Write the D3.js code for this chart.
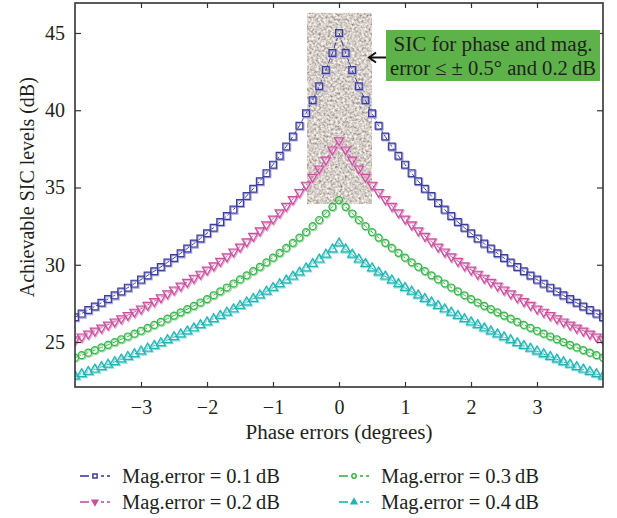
<!DOCTYPE html>
<html>
<head>
<meta charset="utf-8">
<script src="https://cdn.jsdelivr.net/npm/d3@7"></script>
<style>
  html, body { margin: 0; padding: 0; background: #fff; }
  svg { display: block; }
  text { font-family: "Liberation Serif", "DejaVu Serif", serif; fill: #231f20; }
</style>
</head>
<body>
<svg id="chart" width="617" height="518"></svg>
<script>
// ---------------- data ----------------
const phases = [-4,-3.9,-3.8,-3.7,-3.6,-3.5,-3.4,-3.3,-3.2,-3.1,-3,-2.9,-2.8,-2.7,-2.6,-2.5,-2.4,-2.3,-2.2,-2.1,-2,-1.9,-1.8,-1.7,-1.6,-1.5,-1.4,-1.3,-1.2,-1.1,-1,-0.9,-0.8,-0.7,-0.6,-0.5,-0.4,-0.3,-0.2,-0.1,0,0.1,0.2,0.3,0.4,0.5,0.6,0.7,0.8,0.9,1,1.1,1.2,1.3,1.4,1.5,1.6,1.7,1.8,1.9,2,2.1,2.2,2.3,2.4,2.5,2.6,2.7,2.8,2.9,3,3.1,3.2,3.3,3.4,3.5,3.6,3.7,3.8,3.9,4];

const mag01 = [26.61,26.84,27.07,27.3,27.54,27.78,28.02,28.27,28.52,28.78,29.04,29.31,29.58,29.86,30.15,30.44,30.74,31.05,31.37,31.7,32.04,32.4,32.77,33.16,33.57,34.0,34.45,34.92,35.41,35.93,36.48,37.05,37.65,38.3,39.0,39.8,40.65,41.55,42.6,43.7,45.0,43.7,42.6,41.55,40.65,39.8,39.0,38.3,37.65,37.05,36.48,35.93,35.41,34.92,34.45,34.0,33.57,33.16,32.77,32.4,32.04,31.7,31.37,31.05,30.74,30.44,30.15,29.86,29.58,29.31,29.04,28.78,28.52,28.27,28.02,27.78,27.54,27.3,27.07,26.84,26.61];

const mag02 = [25.17,25.35,25.54,25.73,25.92,26.12,26.32,26.53,26.74,26.95,27.16,27.4,27.64,27.89,28.14,28.39,28.64,28.89,29.15,29.41,29.68,29.95,30.24,30.54,30.85,31.17,31.51,31.86,32.22,32.6,32.98,33.38,33.8,34.24,34.7,35.17,35.68,36.22,36.8,37.45,38.05,37.45,36.8,36.22,35.68,35.17,34.7,34.24,33.8,33.38,32.98,32.6,32.22,31.86,31.51,31.17,30.85,30.54,30.24,29.95,29.68,29.41,29.15,28.89,28.64,28.39,28.14,27.89,27.64,27.4,27.16,26.95,26.74,26.53,26.32,26.12,25.92,25.73,25.54,25.35,25.17];

const mag03 = [23.99,24.15,24.31,24.48,24.65,24.82,25.0,25.18,25.36,25.54,25.73,25.92,26.11,26.31,26.51,26.71,26.92,27.13,27.34,27.56,27.78,28.03,28.28,28.53,28.79,29.05,29.32,29.59,29.87,30.16,30.46,30.77,31.09,31.42,31.76,32.12,32.5,32.9,33.32,33.75,34.19,33.75,33.32,32.9,32.5,32.12,31.76,31.42,31.09,30.77,30.46,30.16,29.87,29.59,29.32,29.05,28.79,28.53,28.28,28.03,27.78,27.56,27.34,27.13,26.92,26.71,26.51,26.31,26.11,25.92,25.73,25.54,25.36,25.18,25.0,24.82,24.65,24.48,24.31,24.15,23.99];

const mag04 = [22.78,22.93,23.08,23.23,23.39,23.55,23.71,23.88,24.05,24.22,24.4,24.58,24.76,24.94,25.13,25.32,25.51,25.7,25.9,26.1,26.29,26.49,26.7,26.91,27.13,27.35,27.57,27.8,28.03,28.27,28.51,28.75,29.0,29.25,29.51,29.78,30.06,30.35,30.66,31.0,31.39,31.0,30.66,30.35,30.06,29.78,29.51,29.25,29.0,28.75,28.51,28.27,28.03,27.8,27.57,27.35,27.13,26.91,26.7,26.49,26.29,26.1,25.9,25.7,25.51,25.32,25.13,24.94,24.76,24.58,24.4,24.22,24.05,23.88,23.71,23.55,23.39,23.23,23.08,22.93,22.78];

const seriesNames = ["Mag.error = 0.1\u2009dB", "Mag.error = 0.2\u2009dB", "Mag.error = 0.3\u2009dB", "Mag.error = 0.4\u2009dB"];
const xTickValues = [-3, -2, -1, 0, 1, 2, 3];
const yTickValues = [25, 30, 35, 40, 45];
const xLabel = "Phase errors (degrees)";
const yLabel = "Achievable SIC levels (dB)";
const noteLines = ["SIC for phase and mag.", "error \u2264 \u00b1 0.5\u00b0 and 0.2\u2009dB"];

// ---------------- layout / style ----------------
const svg = d3.select("#chart");
const L = 75, R = 603, T = 3, B = 387;
const x = d3.scaleLinear().domain([-4, 4]).range([L, R]);
const y = d3.scaleLinear().domain([22.09, 46.94]).range([B, T]);

const styles = [
  { color: "#3d3d9c", halo: "#a8a8d8", shape: "square" },
  { color: "#c8509f", halo: "#e7a9d2", shape: "down" },
  { color: "#36b449", halo: "#a4dcaa", shape: "circle" },
  { color: "#1fb4b6", halo: "#98dede", shape: "up" }
];
const seriesValues = [mag01, mag02, mag03, mag04];

function symbolPath(shape, big) {
  const k = big ? 1 : 0.62;
  if (shape === "square") return d3.symbol(d3.symbolSquare, 46 * k * k)();
  if (shape === "circle") return d3.symbol(d3.symbolCircle, 38 * k * k)();
  return d3.symbol(d3.symbolTriangle, 36 * k * k)();
}
function symbolRot(shape) { return shape === "down" ? " rotate(180)" : ""; }

// ---------------- defs: grain texture ----------------
const defs = svg.append("defs");
const f = defs.append("filter").attr("id", "grain")
  .attr("x", 0).attr("y", 0).attr("width", 1).attr("height", 1);
f.append("feTurbulence").attr("type", "fractalNoise").attr("baseFrequency", 0.42)
  .attr("numOctaves", 2).attr("seed", 7).attr("result", "n");
f.append("feColorMatrix").attr("in", "n").attr("type", "matrix")
  .attr("values", "1.2 0 0 0 0.07  1.2 0 0 0 0.02  1.2 0 0 0 -0.02  0 0 0 0 1")
  .attr("result", "c");
f.append("feComposite").attr("in", "c").attr("in2", "SourceGraphic").attr("operator", "in");

defs.append("clipPath").attr("id", "plotclip").append("rect")
  .attr("x", L).attr("y", T).attr("width", R - L).attr("height", B - T);

// ---------------- shaded region ----------------
svg.append("rect")
  .attr("x", x(-0.485)).attr("y", y(46.3))
  .attr("width", x(0.5) - x(-0.485)).attr("height", y(33.93) - y(46.3))
  .attr("fill", "#b0a59c").attr("filter", "url(#grain)");

// ---------------- series ----------------
const plot = svg.append("g").attr("clip-path", "url(#plotclip)");
const line = d3.line().x(d => x(d[0])).y(d => y(d[1]));

seriesValues.forEach((vals, i) => {
  const st = styles[i];
  const pts = phases.map((p, j) => [p, vals[j]]);
  const g = plot.append("g");
  g.append("path").datum(pts).attr("d", line)
    .attr("fill", "none").attr("stroke", st.color).attr("stroke-width", 1)
    .attr("stroke-dasharray", "6,2");
  // halo
  g.selectAll("path.halo").data(pts).join("path").attr("class", "halo")
    .attr("d", symbolPath(st.shape, true))
    .attr("transform", d => `translate(${x(d[0]) + 0.9},${y(d[1]) + 0.9})` + symbolRot(st.shape))
    .attr("fill", "none").attr("stroke", st.halo).attr("stroke-width", 1.6);
  g.selectAll("path.mk").data(pts).join("path").attr("class", "mk")
    .attr("d", symbolPath(st.shape, true))
    .attr("transform", d => `translate(${x(d[0])},${y(d[1])})` + symbolRot(st.shape))
    .attr("fill", "none").attr("stroke", st.color).attr("stroke-width", 1.2);
});

// ---------------- axes / frame ----------------
const axCol = "#333";
const axB = svg.append("g").attr("transform", `translate(0,${B})`)
  .call(d3.axisBottom(x).tickValues(xTickValues).tickSize(-5).tickPadding(13)
    .tickFormat(d => d < 0 ? "\u2212" + Math.abs(d) : d));
const axT = svg.append("g").attr("transform", `translate(0,${T})`)
  .call(d3.axisTop(x).tickValues(xTickValues).tickSize(-5).tickFormat(""));
const axL = svg.append("g").attr("transform", `translate(${L},0)`)
  .call(d3.axisLeft(y).tickValues(yTickValues).tickSize(-6).tickPadding(10));
const axR = svg.append("g").attr("transform", `translate(${R},0)`)
  .call(d3.axisRight(y).tickValues(yTickValues).tickSize(-6).tickFormat(""));
[axB, axT, axL, axR].forEach(a => {
  a.select(".domain").remove();
  a.selectAll(".tick line").attr("stroke", axCol).attr("stroke-width", 1.2);
  a.selectAll(".tick text").attr("font-family", "Liberation Serif, serif")
    .attr("font-size", 20).attr("fill", "#231f20");
});
svg.append("rect").attr("x", L).attr("y", T).attr("width", R - L).attr("height", B - T)
  .attr("fill", "none").attr("stroke", axCol).attr("stroke-width", 1.6);

// axis titles
svg.append("text").attr("x", x(0)).attr("y", 439).attr("text-anchor", "middle")
  .attr("font-size", 20).attr("textLength", 187).attr("lengthAdjust", "spacingAndGlyphs")
  .text(xLabel);
svg.append("text").attr("transform", `translate(34,${y(35.02)}) rotate(-90)`)
  .attr("text-anchor", "middle").attr("font-size", 20)
  .attr("textLength", 220).attr("lengthAdjust", "spacingAndGlyphs")
  .text(yLabel);

// ---------------- annotation ----------------
svg.append("rect").attr("x", 386).attr("y", 30).attr("width", 214).attr("height", 51)
  .attr("fill", "#5db34a");
svg.append("text").attr("x", 493).attr("y", 51).attr("text-anchor", "middle")
  .attr("font-size", 20).attr("textLength", 199).attr("lengthAdjust", "spacingAndGlyphs")
  .text(noteLines[0]);
svg.append("text").attr("x", 493).attr("y", 75).attr("text-anchor", "middle")
  .attr("font-size", 20).attr("textLength", 206).attr("lengthAdjust", "spacingAndGlyphs")
  .text(noteLines[1]);
svg.append("line").attr("x1", 386).attr("y1", 57.5).attr("x2", 369).attr("y2", 57.5)
  .attr("stroke", "#111").attr("stroke-width", 2);
svg.append("path").attr("d", "M376,52.5 L369,57.5 L376,62.5")
  .attr("fill", "none").attr("stroke", "#111").attr("stroke-width", 2);

// ---------------- legend ----------------
const legendPos = [
  { lx: 80, ly: 476 }, { lx: 80, ly: 502 },
  { lx: 339, ly: 476 }, { lx: 339, ly: 502 }
];
seriesNames.forEach((name, i) => {
  const st = styles[i], p = legendPos[i];
  const g = svg.append("g").attr("transform", `translate(${p.lx},${p.ly})`);
  g.append("line").attr("x1", 0).attr("x2", 9).attr("stroke", st.color)
    .attr("stroke-width", 2).attr("opacity", 0.8);
  g.append("line").attr("x1", 21).attr("x2", 24).attr("stroke", st.color)
    .attr("stroke-width", 2).attr("opacity", 0.8);
  g.append("line").attr("x1", 27).attr("x2", 30).attr("stroke", st.color)
    .attr("stroke-width", 2).attr("opacity", 0.8);
  g.append("path").attr("d", symbolPath(st.shape, false))
    .attr("transform", "translate(15,0)" + symbolRot(st.shape))
    .attr("fill", st.shape === "square" || st.shape === "circle" ? "none" : st.color)
    .attr("stroke", st.color).attr("stroke-width", 1.5);
  g.append("text").attr("x", 42).attr("y", 7).attr("font-size", 20)
    .attr("textLength", 158).attr("lengthAdjust", "spacingAndGlyphs")
    .text(name);
});
</script>
</body>
</html>
